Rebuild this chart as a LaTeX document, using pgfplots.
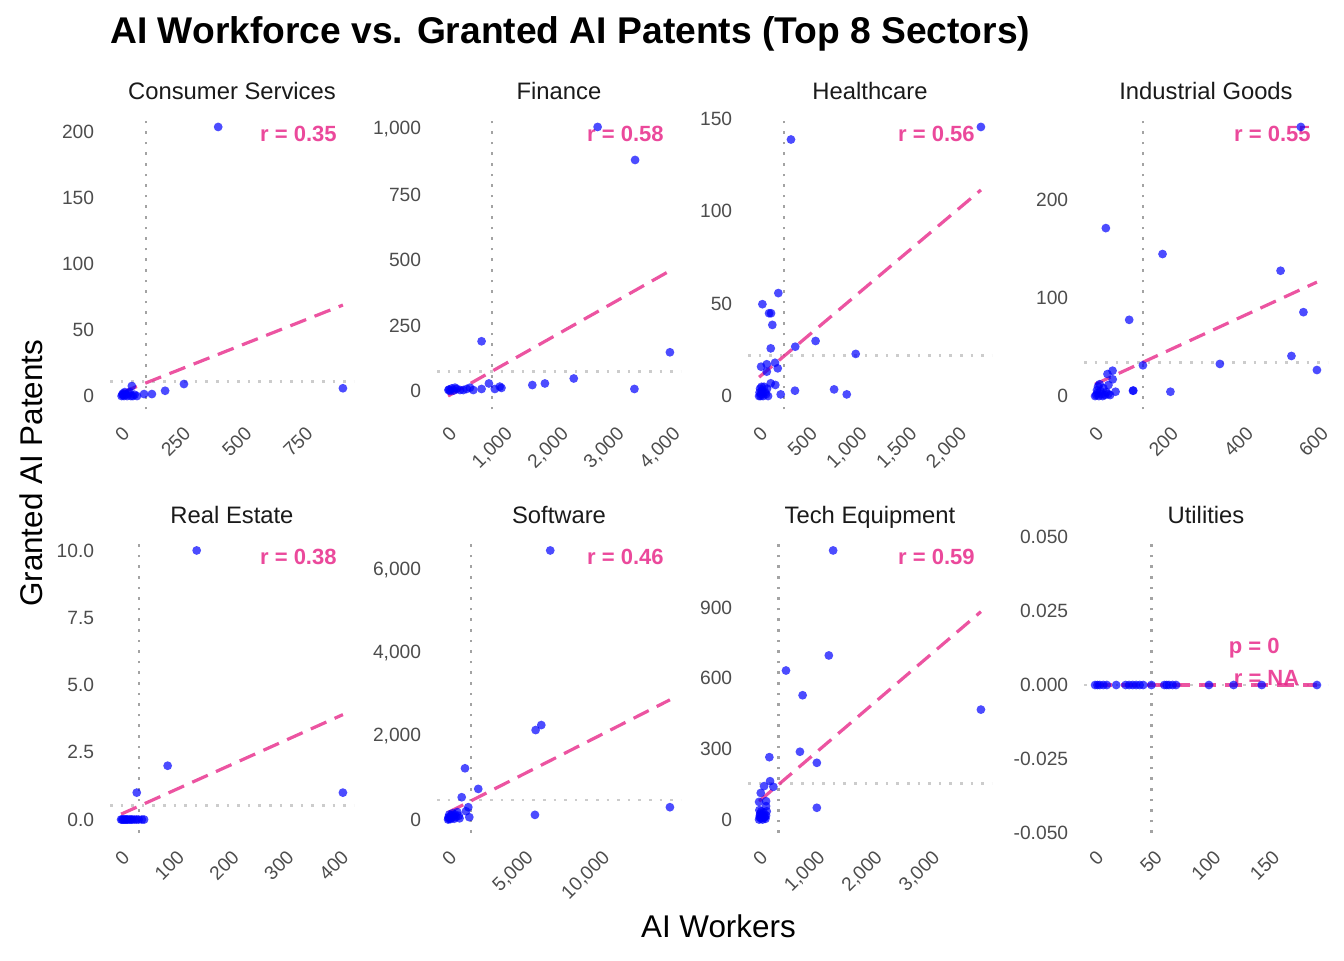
\documentclass[border=0pt]{standalone}
\usepackage{fontspec}
\setmainfont{Liberation Sans}
\usepackage{pgfplots}
\pgfplotsset{compat=1.18}
\definecolor{regpink}{HTML}{E7298A}
\definecolor{ticktxt}{HTML}{4D4D4D}
\definecolor{striptxt}{HTML}{1A1A1A}
\definecolor{vgray}{HTML}{A3A3A3}
\definecolor{hgray}{HTML}{CCCCCC}
\pgfplotsset{
 panel/.style={scale only axis, width=122pt, height=148pt, anchor=south west,
   axis x line*=bottom, axis y line*=left, axis line style={draw=none,-},
   major tick length=0pt, tick style={draw=none}, scaled ticks=false,
   every axis title shift=0pt,
   tick label style={font=\fontsize{9.6}{11}\selectfont, text=ticktxt},
   yticklabel style={anchor=east, inner sep=0pt, xshift=-7.75pt},
   xticklabel style={yshift=-7.75pt, rotate=45, anchor=north east, inner sep=0pt},
   title style={at={(0.5,1)}, anchor=base, yshift=6.85pt, inner sep=0pt, font=\fontsize{11.9}{14}\selectfont, text=striptxt},
   clip=true,
 },
 pts/.style={only marks, mark=*, mark size=2.2pt, mark options={draw opacity=0, fill=blue, fill opacity=0.7}},
 reg/.style={no marks, regpink, draw opacity=0.8, line width=1.6pt, dash pattern=on 8.5pt off 4.5pt},
 vmean/.style={no marks, vgray, line width=1.3pt, dash pattern=on 1.3pt off 4pt},
 hmean/.style={no marks, hgray, line width=1.3pt, dash pattern=on 1.3pt off 4pt},
}
\newcommand{\rlab}[1]{\node[anchor=east, inner sep=0pt, text=regpink, text opacity=0.85, font=\bfseries\fontsize{11}{13}\selectfont, xshift=-8.5pt, yshift=-10pt] at (rel axis cs:1,1) {#1};}
\begin{document}
\begin{tikzpicture}
\useasboundingbox (0,0) rectangle (672pt,480pt);
\node[anchor=base west, inner sep=0pt, font=\bfseries\fontsize{18.6}{22}\selectfont] at (55pt,458.35pt) {AI Workforce vs. Granted AI Patents (Top 8 Sectors)};
\node[anchor=base, inner sep=0pt, font=\fontsize{15.7}{18}\selectfont] at (359.2pt,11.35pt) {AI Workers};
\node[anchor=base, rotate=90, inner sep=0pt, font=\fontsize{15.7}{18}\selectfont] at (21.35pt,243.35pt) {Granted AI Patents};

% Consumer Services
\begin{axis}[panel, at={(55pt,275.25pt)}, title={Consumer Services},
  xmin=-45.35, xmax=952.35, ymin=-10.2, ymax=214.2,
  xtick={0,250,500,750}, xticklabels={0,250,500,750},
  ytick={0,50,100,150,200}, yticklabels={0,50,100,150,200}]
\addplot[hmean] coordinates {(-45.35,10.9) (952.35,10.9)};
\addplot[vmean] coordinates {(102,-10.2) (102,214.2)};
\addplot[pts] coordinates {(397,204) (907,5.9) (257,9.1) (180,4) (126,1.5) (94,1.5) (44,7.6) (2,0) (5,1) (8,2) (12,0) (15,3) (20,1) (25,0) (30,2) (40,0) (55,1) (65,0) (10,1) (35,3) (48,0)};
\addplot[reg] coordinates {(0,2.5) (907,69)};
\rlab{r = 0.35}
\end{axis}

% Finance
\begin{axis}[panel, at={(218.5pt,275.25pt)}, title={Finance},
  xmin=-198.4, xmax=4166.4, ymin=-70.35, ymax=1059.35,
  xtick={0,1000,2000,3000,4000}, xticklabels={0,{1,000},{2,000},{3,000},{4,000}},
  ytick={0,250,500,750,1000}, yticklabels={0,250,500,750,{1,000}}]
\addplot[hmean] coordinates {(-198.4,74) (4166.4,74)};
\addplot[vmean] coordinates {(788,-70.35) (788,1059.35)};
\addplot[pts] coordinates {(2675,1008) (3345,882) (3968,148) (3333,8) (2248,48) (1732,29) (1507,23) (599,190) (730,29) (599,8) (925,17) (955,12) (836,8) (6,4) (65,10) (124,13) (214,4) (273,4) (391,13) (451,4) (154,8) (36,0) (332,8) (20,6) (100,2)};
\addplot[reg] coordinates {(0,-19) (3968,459)};
\rlab{r = 0.58}
\end{axis}

% Healthcare
\begin{axis}[panel, at={(374pt,275.25pt)}, title={Healthcare},
  xmin=-111.35, xmax=2338.35, ymin=-7.28, ymax=152.88,
  xtick={0,500,1000,1500,2000}, xticklabels={0,500,{1,000},{1,500},{2,000}},
  ytick={0,50,100,150}, yticklabels={0,50,100,150}]
\addplot[hmean] coordinates {(-111.35,21.9) (2338.35,21.9)};
\addplot[vmean] coordinates {(250,-7.28) (250,152.88)};
\addplot[pts] coordinates {(2227,145.6) (320,138.8) (193,55.7) (33,49.7) (100,44.8) (120,44.8) (133,38.5) (117,25.8) (363,26.7) (567,29.8) (970,22.8) (20,15.9) (77,17.2) (160,18) (187,15) (77,13.2) (117,6.9) (163,6) (360,2.9) (753,3.6) (880,0.9) (217,0.9) (0,0) (5,2) (10,4) (20,1) (30,3) (40,0) (50,5) (60,2) (70,1) (80,4) (15,0) (25,5) (90,0) (35,2)};
\addplot[reg] coordinates {(0,10.2) (2227,111.5)};
\rlab{r = 0.56}
\end{axis}

% Industrial Goods
\begin{axis}[panel, at={(542pt,275.25pt)}, title={Industrial Goods},
  xmin=-29.6, xmax=621.6, ymin=-13.7, ymax=287.7,
  xtick={0,200,400,600}, xticklabels={0,200,400,600},
  ytick={0,100,200}, yticklabels={0,100,200}]
\addplot[hmean] coordinates {(-29.6,34.4) (621.6,34.4)};
\addplot[vmean] coordinates {(127.6,-13.7) (127.6,287.7)};
\addplot[pts] coordinates {(549,274) (28.7,171) (180,144.6) (495,127.6) (556,85.4) (91,77.6) (524,40.8) (333,32.7) (592,26.5) (127.6,31.3) (201,4.4) (101,5.4) (102,5.6) (54.6,4.4) (46.6,25.8) (33,22.4) (47,17) (35.6,11.2) (0,0) (3,1) (6,3) (10,0) (14,5) (18,2) (22,8) (26,1) (30,4) (8,10) (12,12) (20,0) (35,2) (40,1) (5,6)};
\addplot[reg] coordinates {(0,12) (592,116)};
\rlab{r = 0.55}
\end{axis}

% Real Estate
\begin{axis}[panel, at={(55pt,63.5pt)}, title={Real Estate},
  xmin=-20.25, xmax=425.25, ymin=-0.5, ymax=10.5,
  xtick={0,100,200,300,400}, xticklabels={0,100,200,300,400},
  ytick={0,2.5,5,7.5,10}, yticklabels={0.0,2.5,5.0,7.5,10.0}]
\addplot[hmean] coordinates {(-20.25,0.52) (425.25,0.52)};
\addplot[vmean] coordinates {(33,-0.5) (33,10.5)};
\addplot[pts] coordinates {(138,10) (85,2) (28.6,1) (405,1) (0,0) (2,0) (4,0) (6,0) (8,0) (10,0) (12,0) (15,0) (18,0) (20,0) (24,0) (28,0) (32,0) (38,0) (42,0)};
\addplot[reg] coordinates {(0,0.2) (405,3.9)};
\rlab{r = 0.38}
\end{axis}

% Software
\begin{axis}[panel, at={(218.5pt,63.5pt)}, title={Software},
  xmin=-725, xmax=15224, ymin=-323.65, ymax=6796.65,
  xtick={0,5000,10000}, xticklabels={0,{5,000},{10,000}},
  ytick={0,2000,4000,6000}, yticklabels={0,{2,000},{4,000},{6,000}}]
\addplot[hmean] coordinates {(-725,473) (15224,473)};
\addplot[vmean] coordinates {(1495,-323.65) (1495,6796.65)};
\addplot[pts] coordinates {(6677,6473) (6092,2273) (5722,2153) (5676,113) (14499,297) (1105,1233) (1972,737) (890,537) (1322,297) (1387,57) (1170,200) (0,0) (50,20) (100,60) (150,10) (200,100) (250,40) (300,150) (350,80) (400,20) (450,120) (500,60) (600,180) (700,90) (750,30) (80,120) (20,50)};
\addplot[reg] coordinates {(0,170) (14499,2880)};
\rlab{r = 0.46}
\end{axis}

% Tech Equipment
\begin{axis}[panel, at={(374pt,63.5pt)}, title={Tech Equipment},
  xmin=-193.4, xmax=4061.4, ymin=-57.15, ymax=1200.15,
  xtick={0,1000,2000,3000}, xticklabels={0,{1,000},{2,000},{3,000}},
  ytick={0,300,600,900}, yticklabels={0,300,600,900}]
\addplot[hmean] coordinates {(-193.4,152) (4061.4,152)};
\addplot[vmean] coordinates {(336,-57.15) (336,1200.15)};
\addplot[pts] coordinates {(1291,1143) (1216,697) (469,633) (759,528) (3868,467) (712,288) (1007,241) (1007,50) (179,265) (191,163) (249,139) (87,142) (29,113) (122,78) (0,75) (122,57) (133,35) (122,17) (0,0) (10,10) (20,25) (30,5) (40,35) (50,15) (60,0) (70,20) (80,30) (90,8) (100,12) (5,40) (15,18) (110,3)};
\addplot[reg] coordinates {(0,78) (3868,883)};
\rlab{r = 0.59}
\end{axis}

% Utilities
\begin{axis}[panel, at={(542pt,63.5pt)}, title={Utilities},
  xmin=-9.45, xmax=198.45, ymin=-0.05, ymax=0.05,
  xtick={0,50,100,150}, xticklabels={0,50,100,150},
  ytick={-0.05,-0.025,0,0.025,0.05}, yticklabels={-0.050,-0.025,0.000,0.025,0.050}]
\addplot[hmean] coordinates {(-9.45,0) (198.45,0)};
\addplot[vmean] coordinates {(48,-0.05) (48,0.05)};
\addplot[pts] coordinates {(0,0) (2,0) (4,0) (7,0) (10,0) (18,0) (26,0) (29,0) (32,0) (35,0) (38,0) (41,0) (48,0) (59,0) (61,0) (63,0) (66,0) (69,0) (97,0) (118,0) (142,0) (189,0)};
\addplot[reg] coordinates {(0,0) (189,0)};
\node[anchor=base west, inner sep=0pt, text=regpink, text opacity=0.85, font=\bfseries\fontsize{11}{13}\selectfont] at (axis cs:113.6,0.0107) {p = 0};
\node[anchor=base west, inner sep=0pt, text=regpink, text opacity=0.85, font=\bfseries\fontsize{11}{13}\selectfont] at (axis cs:117.9,0) {r = NA};
\end{axis}
\end{tikzpicture}
\end{document}
